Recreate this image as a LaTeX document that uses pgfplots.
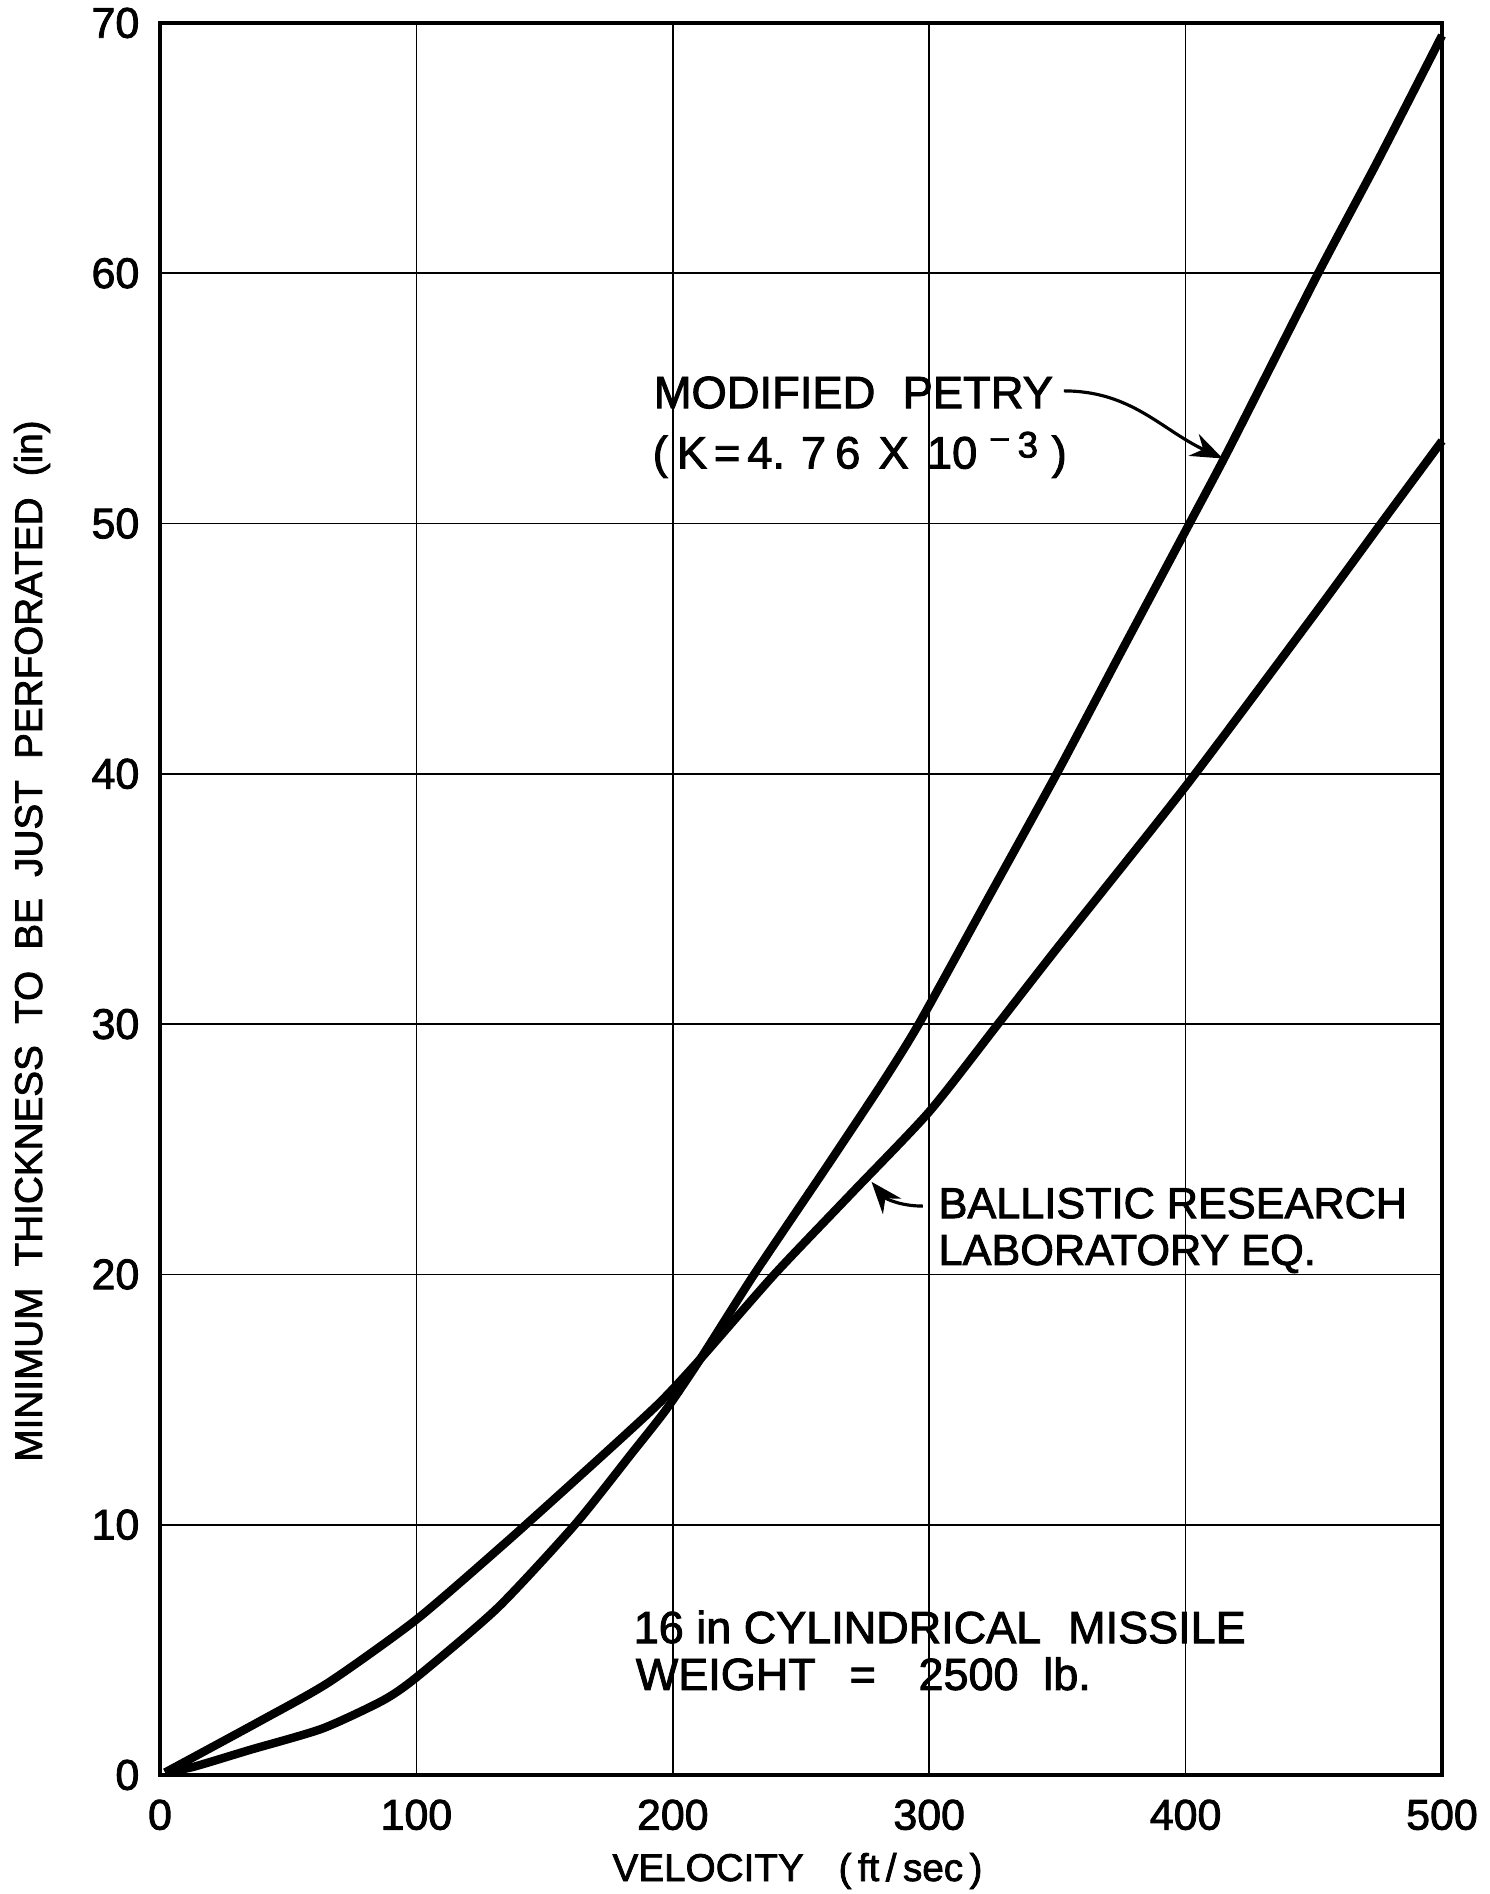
\documentclass[border=0pt]{standalone}
\usepackage{fontspec}
\setmainfont{Liberation Sans}[FakeBold=2]
\usepackage{pgfplots}
\pgfplotsset{compat=1.18}
\usetikzlibrary{arrows.meta}

\begin{document}
\begin{tikzpicture}
\begin{axis}[
  name=ax,
  scale only axis,
  width=128.2mm, height=175.2mm,
  xmin=0, xmax=500, ymin=0, ymax=70,
  xtick={0,100,...,500}, ytick={0,10,...,70},
  grid=major,
  major grid style={black, line width=0.5pt},
  axis line style={black, line width=1.4pt},
  major tick length=0pt,
  /pgf/number format/assume math mode=true,
  ticklabel style={font=\fontsize{12.2}{12.2}\selectfont, inner sep=0pt},
  xticklabel style={anchor=north, yshift=-2.4mm},
  yticklabel style={anchor=east, xshift=-2mm},
  clip=false,
]
% Modified Petry
\addplot[black, line width=2.4pt, smooth, tension=0.4] coordinates {
(2,0.1) (13.2,0.33) (35,1.0) (63.2,1.85) (86.8,2.97) (100,3.9) (131.6,6.67)
(161.8,10) (184.2,12.88) (197.4,14.6) (210.8,16.63) (231.7,20) (260,24.3)
(281.7,27.65) (295.9,30) (322,34.85) (349.7,40) (375,44.9) (401.5,50)
(417,53) (451.7,60) (475,64.5) (500,69.5)
};
% Ballistic Research Laboratory Eq.
\addplot[black, line width=2.4pt, smooth, tension=0.4] coordinates {
(2,0.1) (39.5,2.18) (65.8,3.70) (100,6.21) (135,9.3) (171,12.62)
(194.7,14.86) (210.8,16.63) (239.6,20) (270,23.27) (300,26.5) (326.8,30)
(350,33.05) (400,39.5) (450,46.34) (476.2,50) (500,53.3)
};

\node[anchor=base west, inner sep=0pt, font=\fontsize{12.9}{12.9}\selectfont]
  at (axis cs:192.3,54.61) {MODIFIED\hspace{0.6em}PETRY};
\node[anchor=base west, inner sep=0pt, font=\fontsize{12.9}{12.9}\selectfont]
  at (axis cs:191.9,52.2) {(\hspace{0.2em}K\hspace{0.15em}=\hspace{0.15em}4.\hspace{0.35em}7\hspace{0.2em}6\hspace{0.4em}X\hspace{0.4em}10\hspace{0.3em}\raisebox{2.1mm}{\fontsize{9}{9}\selectfont –}\hspace{0.2em}\raisebox{1.1mm}{\fontsize{10.5}{10.5}\selectfont 3}\hspace{0.3em})};
\draw[black, line width=0.9pt, -{Stealth[length=3.2mm,width=2.4mm]}]
  (axis cs:352.5,55.3) to[out=0, in=155] (axis cs:414.5,52.6);

\node[anchor=base west, inner sep=0pt, font=\fontsize{12.3}{12.3}\selectfont]
  at (axis cs:303.4,22.25) {BALLISTIC RESEARCH};
\node[anchor=base west, inner sep=0pt, font=\fontsize{12.3}{12.3}\selectfont]
  at (axis cs:303.4,20.38) {LABORATORY EQ.};
\draw[black, line width=0.9pt, -{Stealth[length=3.2mm,width=2.4mm]}]
  (axis cs:297.5,22.73) to[out=180, in=-50] (axis cs:277.5,23.7);

\node[anchor=base west, inner sep=0pt, font=\fontsize{12.8}{12.8}\selectfont]
  at (axis cs:184.5,5.27) {16 in CYLINDRICAL\hspace{0.6em}MISSILE};
\node[anchor=base west, inner sep=0pt, font=\fontsize{12.8}{12.8}\selectfont]
  at (axis cs:185.3,3.40) {WEIGHT\hspace{0.75em}=\hspace{0.95em}2500\hspace{0.55em}lb.};
\end{axis}

\node[anchor=base, inner sep=0pt, font=\fontsize{11}{11}\selectfont]
  at ([shift={(63.75mm,-10.6mm)}]ax.south west) {VELOCITY\hspace{0.9em}(\,ft\,/\,sec\,)};
\node[anchor=base, inner sep=0pt, rotate=90, font=\fontsize{11}{11}\selectfont]
  at ([shift={(-11.8mm,83.4mm)}]ax.south west)
  {MINIMUM\hspace{0.55em}THICKNESS\hspace{0.55em}TO\hspace{0.55em}BE\hspace{0.55em}JUST\hspace{0.55em}PERFORATED\hspace{0.55em}(in)};

\pgfresetboundingbox
\path[use as bounding box] (ax.south west) ++(-16mm,-11.9mm) rectangle ++(149mm,189.4mm);
\end{tikzpicture}
\end{document}
